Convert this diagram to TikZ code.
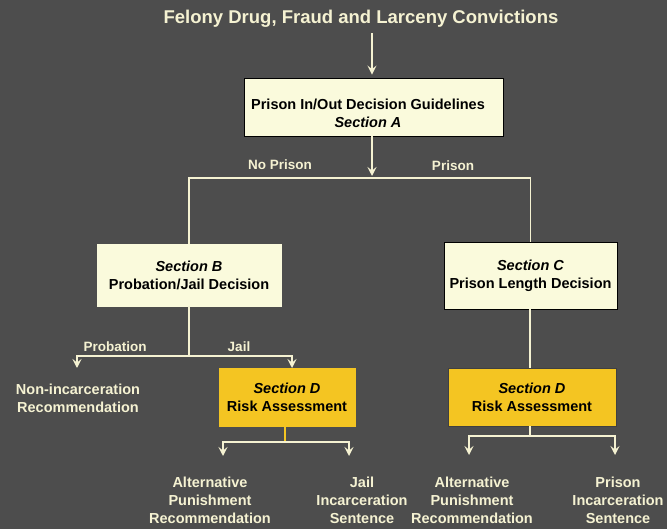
\documentclass[tikz,border=0pt]{standalone}
\usepackage{fontspec}
\setmainfont{Liberation Sans}
\usetikzlibrary{arrows.meta}

\definecolor{slateBg}{HTML}{4D4D4D}
\definecolor{creamText}{HTML}{F5F2D2}
\definecolor{guideBg}{HTML}{FAFADC}
\definecolor{riskBg}{HTML}{F4C522}

\begin{document}
\begin{tikzpicture}[x=1pt, y=-1pt,
  every node/.style={font=\bfseries\fontsize{14.5}{18}\selectfont},
  sectbox/.style={fill=guideBg, draw=black, line width=0.8pt, align=center, inner sep=0pt},
  riskbox/.style={fill=riskBg, draw=black!75, line width=0.8pt, align=center, inner sep=0pt},
  flow/.style={draw=creamText, line width=1.6pt},
  tip/.style={flow, -{Stealth[length=9pt, width=9pt, inset=3.5pt]}},
  outcome/.style={text=creamText, align=center, inner sep=0pt},
  branch/.style={text=creamText, font=\bfseries\fontsize{13.5}{16}\selectfont}]

\useasboundingbox (0,0) rectangle (667,529);
\fill[slateBg] (0,0) rectangle (667,529);

% Top
\node[text=creamText, font=\bfseries\fontsize{18.5}{22}\selectfont] (title) at (361,19) {Felony Drug, Fraud and Larceny Convictions};

\node[sectbox, minimum width=259pt, minimum height=58pt] (secA) at (373.5,107) {};
\node[align=center, inner sep=0pt] (secAText) at (368,113)
  {Prison In/Out Decision Guidelines\\ \itshape Section A};

\draw[tip, shorten <=2pt, shorten >=3pt] (title.south -| 372,0) -- (secA.north -| 372,0);

\coordinate (splitA) at (372,178);
\draw[tip, shorten >=2pt] (secA.south -| splitA) -- (splitA);

\node[branch] (noPrison) at (280,165) {No Prison};
\node[branch] (prison) at (453,166) {Prison};

% B and C
\node[sectbox, draw=guideBg, minimum width=184pt, minimum height=62pt] (secB) at (189,275)
  {\itshape Section B\\ Probation/Jail Decision};
\node[sectbox, minimum width=173pt, minimum height=67pt] (secC) at (530.5,275.5)
  {\itshape Section C\\ Prison Length Decision};

\draw[flow] (secB.north) |- (splitA) -| (secC.north);

% below B
\coordinate (splitB) at (189,356);
\coordinate (probEnd) at (77,368);
\coordinate (jailEnd) at (292,368);
\draw[flow] (secB.south) -- (splitB);
\draw[tip] (splitB) -| (probEnd);
\draw[tip] (splitB) -| (jailEnd);

\node[branch] (probation) at (115,347) {Probation};
\node[branch] (jail) at (239,347) {Jail};

\node[outcome] (nonInc) at (78,398) {Non-incarceration\\ Recommendation};

\node[riskbox, draw=riskBg, minimum width=136pt, minimum height=58pt] (riskL) at (287,397)
  {\itshape Section D\\ Risk Assessment};
\node[riskbox, minimum width=168pt, minimum height=58pt] (riskR) at (532,397)
  {\itshape Section D\\ Risk Assessment};

\draw[flow] (secC.south -| 530,0) -- (riskR.north -| 530,0);

% D outputs, left
\coordinate (forkL) at (285,442);
\coordinate (dropLA) at (223,456);
\coordinate (dropLB) at (349,456);
\draw[draw=riskBg, line width=1.6pt] (riskL.south -| forkL) -- (forkL);
\draw[tip] (forkL) -| (dropLA);
\draw[tip] (forkL) -| (dropLB);

% D outputs, right
\coordinate (forkR) at (530,436);
\coordinate (dropRA) at (469,455);
\coordinate (dropRB) at (615,455);
\draw[flow] (riskR.south -| forkR) -- (forkR);
\draw[tip] (forkR) -| (dropRA);
\draw[tip] (forkR) -| (dropRB);

\node[outcome] (altL) at (210,500) {Alternative\\ Punishment\\ Recommendation};
\node[outcome] (jailOut) at (362,500) {Jail\\ Incarceration\\ Sentence};
\node[outcome] (altR) at (472,500) {Alternative\\ Punishment\\ Recommendation};
\node[outcome] (prisonOut) at (618,500) {Prison\\ Incarceration\\ Sentence};
\end{tikzpicture}
\end{document}
